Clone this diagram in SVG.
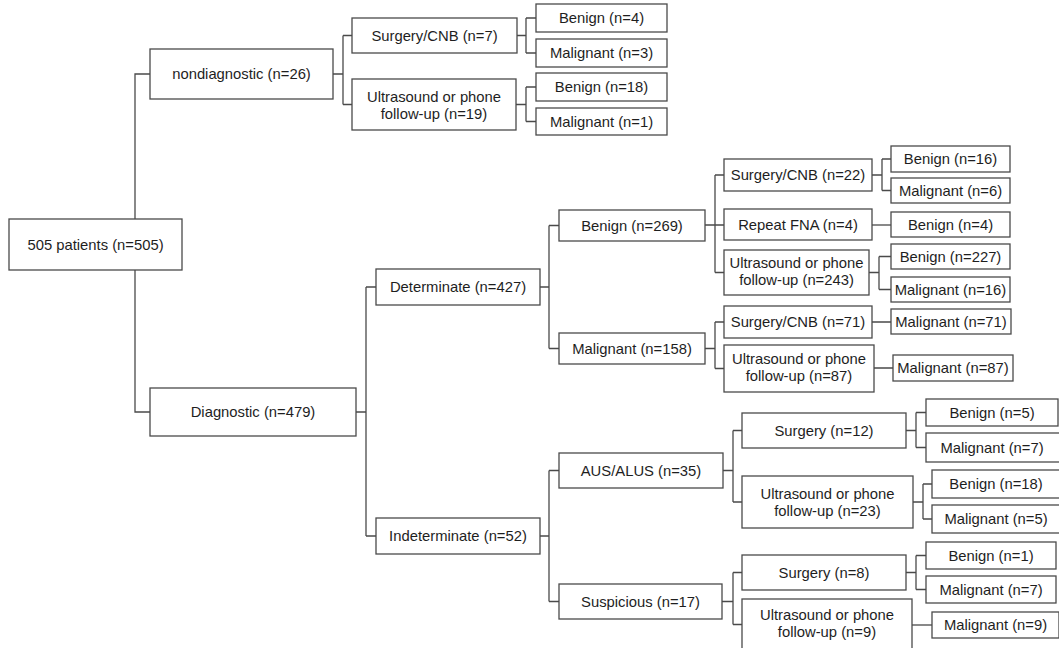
<svg xmlns="http://www.w3.org/2000/svg" width="1059" height="648" viewBox="0 0 1059 648">
<style>
.b{fill:#fff;stroke:#4a4a4a;stroke-width:1.3}
.c{fill:none;stroke:#4a4a4a;stroke-width:1.3}
text{font-family:"Liberation Sans",Arial,sans-serif;font-size:14.8px;fill:#1e1e1e;text-anchor:middle}
</style>
<rect width="1059" height="648" fill="#fff"/>
<g id="connectors" class="c">
<path d="M135,219V74H150M135,270V412H150"/>
<path d="M333,74H343M343,35.5V104.5M343,35.5H352M343,104.5H352"/>
<path d="M517,35.5H526M526,18V53M526,18H536M526,53H536"/>
<path d="M516,104.5H526M526,87V121.5M526,87H536M526,121.5H536"/>
<path d="M356,412H366M366,287V536M366,287H376M366,536H376"/>
<path d="M540,287H549M549,225.5V348.5M549,225.5H559M549,348.5H559"/>
<path d="M705,225H724M715,175V272.5M715,175H724M715,272.5H724"/>
<path d="M872,175H882M882,159V190.5M882,159H891M882,190.5H891"/>
<path d="M872,225H891"/>
<path d="M869,272.5H879M879,256.5V289.5M879,256.5H891M879,289.5H891"/>
<path d="M705,348.5H715M715,322V368.5M715,322H724M715,368.5H724"/>
<path d="M872,322H891M874,368H893"/>
<path d="M540,536H549M549,470.5V601.5M549,470.5H559M549,601.5H559"/>
<path d="M723,470.5H733M733,430.5V502M733,430.5H742M733,502H742"/>
<path d="M906,430.5H916M916,412.5V447.5M916,412.5H926M916,447.5H926"/>
<path d="M913,502H923M923,484V519M923,484H932M923,519H932"/>
<path d="M722,601.5H733M733,572.5V624.5M733,572.5H742M733,624.5H742"/>
<path d="M906,572.5H916M916,555.5V589.5M916,555.5H926M916,589.5H926"/>
<path d="M912,625H932"/>
</g>
<g id="root"><rect class="b" x="9" y="219" width="173" height="51"/><text x="95.5" y="249.5">505 patients (n=505)</text></g>
<g id="nondiag"><rect class="b" x="150" y="49" width="183" height="50"/><text x="241.5" y="79">nondiagnostic (n=26)</text></g>
<g id="diagnostic"><rect class="b" x="150" y="388" width="206" height="48"/><text x="253" y="417">Diagnostic (n=479)</text></g>
<g id="surgcnb7"><rect class="b" x="352" y="18" width="165" height="35"/><text x="434.5" y="40.5">Surgery/CNB (n=7)</text></g>
<g id="us19"><rect class="b" x="352" y="79" width="164" height="51"/><text x="434" y="102">Ultrasound or phone</text><text x="434" y="119">follow-up (n=19)</text></g>
<g id="ben4"><rect class="b" x="536" y="4" width="131" height="28"/><text x="601.5" y="23">Benign (n=4)</text></g>
<g id="mal3"><rect class="b" x="536" y="39" width="131" height="28"/><text x="601.5" y="58">Malignant (n=3)</text></g>
<g id="ben18a"><rect class="b" x="536" y="73" width="131" height="28"/><text x="601.5" y="92">Benign (n=18)</text></g>
<g id="mal1"><rect class="b" x="536" y="108" width="131" height="27"/><text x="601.5" y="126.5">Malignant (n=1)</text></g>
<g id="determinate"><rect class="b" x="376" y="269" width="164" height="36"/><text x="458" y="292">Determinate (n=427)</text></g>
<g id="indeterminate"><rect class="b" x="376" y="518" width="164" height="36"/><text x="458" y="541">Indeterminate (n=52)</text></g>
<g id="benign269"><rect class="b" x="559" y="210" width="146" height="31"/><text x="632" y="230.5">Benign (n=269)</text></g>
<g id="mal158"><rect class="b" x="559" y="333" width="146" height="31"/><text x="632" y="353.5">Malignant (n=158)</text></g>
<g id="surgcnb22"><rect class="b" x="724" y="159" width="148" height="32"/><text x="798" y="180">Surgery/CNB (n=22)</text></g>
<g id="repeatfna"><rect class="b" x="724" y="209" width="148" height="31"/><text x="798" y="229.5">Repeat FNA (n=4)</text></g>
<g id="us243"><rect class="b" x="724" y="250" width="145" height="45"/><text x="796.5" y="268">Ultrasound or phone</text><text x="796.5" y="285">follow-up (n=243)</text></g>
<g id="ben16"><rect class="b" x="891" y="146" width="119" height="26"/><text x="950.5" y="164">Benign (n=16)</text></g>
<g id="mal6"><rect class="b" x="891" y="178" width="119" height="25"/><text x="950.5" y="195.5">Malignant (n=6)</text></g>
<g id="ben4b"><rect class="b" x="891" y="212" width="119" height="25"/><text x="950.5" y="229.5">Benign (n=4)</text></g>
<g id="ben227"><rect class="b" x="891" y="244" width="119" height="25"/><text x="950.5" y="261.5">Benign (n=227)</text></g>
<g id="mal16"><rect class="b" x="891" y="277" width="119" height="25"/><text x="950.5" y="294.5">Malignant (n=16)</text></g>
<g id="surgcnb71"><rect class="b" x="724" y="306" width="148" height="32"/><text x="798" y="327">Surgery/CNB (n=71)</text></g>
<g id="us87"><rect class="b" x="724" y="345" width="150" height="47"/><text x="799" y="364">Ultrasound or phone</text><text x="799" y="381">follow-up (n=87)</text></g>
<g id="mal71"><rect class="b" x="891" y="309" width="120" height="25"/><text x="951" y="326.5">Malignant (n=71)</text></g>
<g id="mal87"><rect class="b" x="893" y="355" width="120" height="26"/><text x="953" y="373">Malignant (n=87)</text></g>
<g id="aus"><rect class="b" x="559" y="453" width="164" height="35"/><text x="641" y="475.5">AUS/ALUS (n=35)</text></g>
<g id="susp"><rect class="b" x="559" y="584" width="163" height="35"/><text x="640.5" y="606.5">Suspicious (n=17)</text></g>
<g id="surg12"><rect class="b" x="742" y="413" width="164" height="35"/><text x="824" y="435.5">Surgery (n=12)</text></g>
<g id="us23"><rect class="b" x="742" y="476" width="171" height="52"/><text x="827.5" y="499">Ultrasound or phone</text><text x="827.5" y="516">follow-up (n=23)</text></g>
<g id="ben5"><rect class="b" x="926" y="399" width="132" height="27"/><text x="992" y="417.5">Benign (n=5)</text></g>
<g id="mal7a"><rect class="b" x="926" y="433" width="135" height="29"/><text x="992" y="452.5">Malignant (n=7)</text></g>
<g id="ben18b"><rect class="b" x="932" y="470" width="129" height="28"/><text x="996" y="489">Benign (n=18)</text></g>
<g id="mal5"><rect class="b" x="932" y="505" width="129" height="28"/><text x="996" y="524">Malignant (n=5)</text></g>
<g id="surg8"><rect class="b" x="742" y="555" width="164" height="35"/><text x="824" y="577.5">Surgery (n=8)</text></g>
<g id="us9"><rect class="b" x="742" y="599" width="170" height="52"/><text x="827" y="620">Ultrasound or phone</text><text x="827" y="637">follow-up (n=9)</text></g>
<g id="ben1"><rect class="b" x="926" y="542" width="130" height="27"/><text x="991" y="560.5">Benign (n=1)</text></g>
<g id="mal7b"><rect class="b" x="926" y="576" width="130" height="27"/><text x="991" y="594.5">Malignant (n=7)</text></g>
<g id="mal9"><rect class="b" x="932" y="612" width="127" height="26"/><text x="995.5" y="630">Malignant (n=9)</text></g>
</svg>
